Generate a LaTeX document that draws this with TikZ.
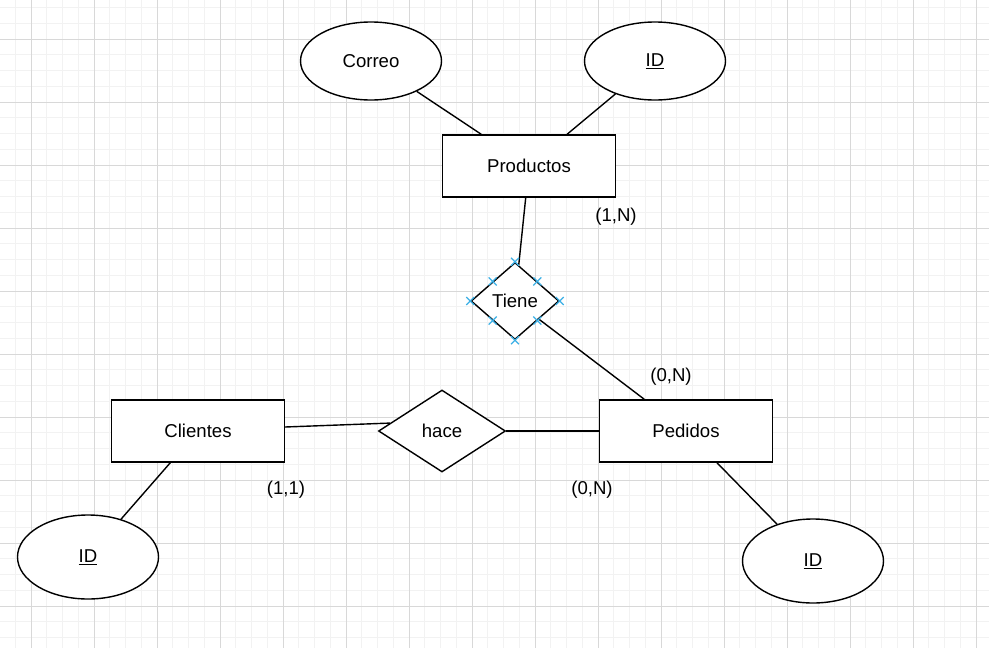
\documentclass[tikz,border=0pt]{standalone}
\usepackage{fontspec}
\setmainfont{Liberation Sans}
\usetikzlibrary{shapes.geometric,calc}

\definecolor{gridminor}{RGB}{242,242,242}
\definecolor{gridmajor}{RGB}{216,216,216}
\definecolor{markblue}{RGB}{60,176,230}

\begin{document}
\begin{tikzpicture}[x=1pt,y=-1pt,line width=1.4pt,
    every node/.style={font=\fontsize{18.6}{22}\selectfont},
    entity/.style={draw,fill=white,minimum width=173pt,minimum height=62pt,inner sep=0pt},
    attrib/.style={draw,fill=white,ellipse,minimum width=141pt,minimum height=78pt,inner sep=0pt},
    relation/.style={draw,fill=white,diamond,inner sep=0pt},
    minorgrid/.style={line width=1pt,draw=gridminor},
    majorgrid/.style={line width=1pt,draw=gridmajor},
    marker/.style={line width=1.3pt,draw=markblue}]
    \fill[white] (0,0) rectangle (989,648);
    \useasboundingbox (0,0) rectangle (989,648);
    % grid
    \foreach \k in {-2,...,60}
      \draw[minorgrid] ({31+15.75*\k},0) -- ({31+15.75*\k},648);
    \foreach \k in {-2,...,38}
      \draw[minorgrid] (0,{39+15.75*\k}) -- (989,{39+15.75*\k});
    \foreach \k in {0,...,15}
      \draw[majorgrid] ({31+63*\k},0) -- ({31+63*\k},648);
    \foreach \k in {0,...,9}
      \draw[majorgrid] (0,{39+63*\k}) -- (989,{39+63*\k});

    \node[attrib] (correo) at (371,61) {Correo};
    \node[attrib] (idprod) at (655,61) {\underline{ID}};
    \node[entity] (productos) at (529,166) {Productos};
    \node[relation,minimum width=88pt,minimum height=77pt] (tiene) at (515,301) {Tiene};
    \node[entity] (clientes) at (198,431) {Clientes};
    \node[relation,minimum width=127pt,minimum height=82pt] (hace) at (442,431) {hace};
    \node[entity] (pedidos) at (686,431) {Pedidos};
    \node[attrib,minimum height=84pt] (idcli) at (88,557) {\underline{ID}};
    \node[attrib,minimum height=84pt] (idped) at (813,561) {\underline{ID}};

    \draw (correo) -- (productos);
    \draw (idprod) -- (productos);
    \draw (productos) -- (tiene);
    \draw (tiene) -- (pedidos);
    \draw ([yshift=4pt]clientes.east) -- ($(hace.west)!0.19!(hace.north)$);
    \draw (hace) -- (pedidos);
    \draw (clientes) -- (idcli);
    \draw (pedidos) -- (idped);

    \node (cardprod) at (616,217) {(1,N)};
    \node (cardped) at (671,377) {(0,N)};
    \node (cardcli) at (286,490) {(1,1)};
    \node (cardhace) at (592,490) {(0,N)};

    \foreach \a in {north,north east,east,south east,south,south west,west,north west}
      \draw[marker] (tiene.\a) +(-4,-4) -- +(4,4) +(-4,4) -- +(4,-4);
  \end{tikzpicture}
\end{document}
